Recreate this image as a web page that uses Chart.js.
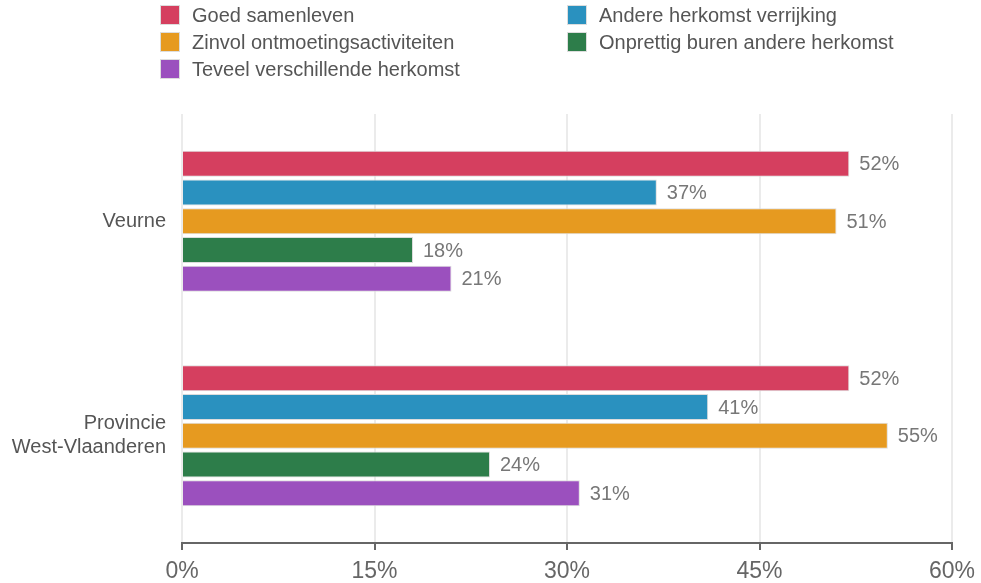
<!DOCTYPE html>
<html>
<head>
<meta charset="utf-8">
<script src="https://cdn.jsdelivr.net/npm/chart.js@4.4.0/dist/chart.umd.min.js"></script>
<style>
    html, body { margin: 0; padding: 0; background: #fff; }
    #wrap { position: relative; width: 981px; height: 583px; }
    #legend {
        position: absolute; left: 160px; top: 5px;
        display: grid; grid-template-columns: 407px 400px; row-gap: 7px;
        font-family: 'Liberation Sans', Arial, sans-serif; font-size: 20px; color: #555;
        white-space: nowrap;
    }
    #legend .item { display: flex; align-items: center; height: 20px; }
    #legend .box { width: 20px; height: 20px; margin-right: 12px; box-sizing: border-box; border: 1px solid #ddd; }
</style>
</head>
<body>
<div id="wrap">
    <div id="legend"></div>
    <canvas id="chart" width="981" height="583"></canvas>
</div>
<script>
// chart data
const categories = ['Veurne', ['Provincie', 'West-Vlaanderen']];
const seriesNames = ['Goed samenleven', 'Andere herkomst verrijking', 'Zinvol ontmoetingsactiviteiten', 'Onprettig buren andere herkomst', 'Teveel verschillende herkomst'];
const seriesColors = ['#d53f5f', '#2a91bf', '#e69a20', '#2d7d4a', '#9b50be'];
const goedSamenleven = [52, 52];
const andereHerkomst = [37, 41];
const zinvolActiviteiten = [51, 55];
const onprettigBuren = [18, 24];
const teveelHerkomst = [21, 31];
const seriesValues = [goedSamenleven, andereHerkomst, zinvolActiviteiten, onprettigBuren, teveelHerkomst];
const xTicks = [0, 15, 30, 45, 60];

document.addEventListener('DOMContentLoaded', function() {
    // Legend in two columns
    const legend = document.getElementById('legend');
    seriesNames.forEach((name, i) => {
        const item = document.createElement('div');
        item.className = 'item';
        item.innerHTML = '<span class="box" style="background:' + seriesColors[i] + '"></span><span>' + name + '</span>';
        legend.appendChild(item);
    });

    // value labels right of bars
    const valueLabels = {
        id: 'valueLabels',
        afterDatasetsDraw(chart) {
            const ctx = chart.ctx;
            ctx.save();
            ctx.font = '20px "Liberation Sans", Arial, sans-serif';
            ctx.fillStyle = '#777';
            ctx.textAlign = 'left';
            ctx.textBaseline = 'middle';
            chart.data.datasets.forEach((ds, di) => {
                chart.getDatasetMeta(di).data.forEach((bar, i) => {
                    ctx.fillText(ds.data[i] + '%', bar.x + 10, bar.y + 1);
                });
            });
            ctx.restore();
        }
    };

    const ctx = document.getElementById('chart').getContext('2d');
    new Chart(ctx, {
        type: 'bar',
        data: {
            labels: categories,
            datasets: seriesNames.map((name, i) => ({
                label: name,
                data: seriesValues[i],
                backgroundColor: seriesColors[i],
                borderColor: '#dcdcdc',
                borderWidth: 1,
                categoryPercentage: 0.67,
                barPercentage: 0.9
            }))
        },
        options: {
            indexAxis: 'y',
            responsive: false,
            animation: false,
            layout: { padding: { top: 114, right: 29, left: 0, bottom: 0 } },
            scales: {
                x: {
                    min: 0,
                    max: 60,
                    afterBuildTicks: axis => { axis.ticks = xTicks.map(v => ({ value: v })); },
                    afterFit: axis => {
                        axis.height = 40;
                        axis.paddingLeft = 0;
                        axis.paddingRight = 0;
                    },
                    ticks: {
                        callback: v => v + '%',
                        font: { family: '"Liberation Sans", Arial, sans-serif', size: 23 },
                        color: '#666',
                        padding: 8,
                        maxRotation: 0
                    },
                    grid: { color: '#ebebeb', tickColor: '#666', tickLength: 7, lineWidth: 2 },
                    border: { color: '#666', width: 2 }
                },
                y: {
                    afterFit: axis => { axis.width = 182; },
                    ticks: {
                        font: { family: '"Liberation Sans", Arial, sans-serif', size: 20 },
                        color: '#555',
                        padding: 16
                    },
                    grid: { display: false, drawTicks: false },
                    border: { display: false }
                }
            },
            plugins: {
                legend: { display: false },
                tooltip: { enabled: false }
            }
        },
        plugins: [valueLabels]
    });
});
</script>
</body>
</html>
